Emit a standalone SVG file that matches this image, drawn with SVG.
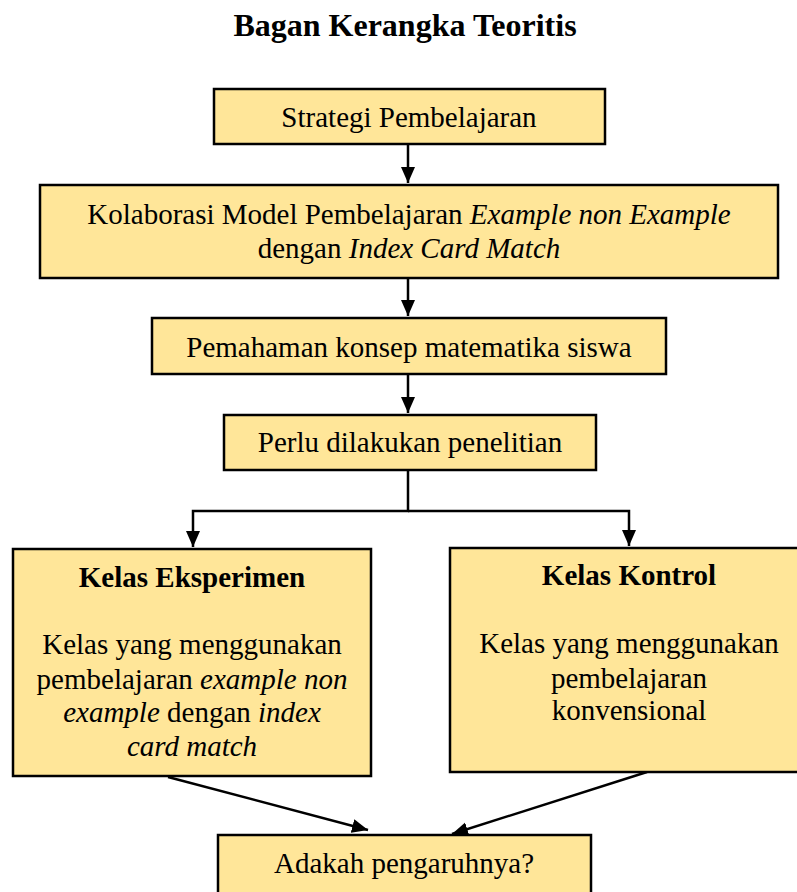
<svg xmlns="http://www.w3.org/2000/svg" width="797" height="892" viewBox="0 0 797 892">
<style>
.box{fill:#FFE699;stroke:#000;stroke-width:2.5}
.t{font-family:"Liberation Serif","Times New Roman",serif;font-size:29px;fill:#000;text-anchor:middle}
.b{font-weight:bold}
.i{font-style:italic}
.c{stroke:#000;stroke-width:2.5;fill:none}
</style>
<defs>
<marker id="ah" markerUnits="userSpaceOnUse" markerWidth="16" markerHeight="16" viewBox="0 0 16 16" refX="16" refY="8" orient="auto">
<path d="M0,1 L16,8 L0,15 Z" fill="#000"/>
</marker>
</defs>
<rect width="797" height="892" fill="#fff"/>
<text class="t b" x="405" y="36" style="font-size:32px">Bagan Kerangka Teoritis</text>
<g id="connectors">
<path class="c" d="M408,144 V183" marker-end="url(#ah)"/>
<path class="c" d="M408,278 V316" marker-end="url(#ah)"/>
<path class="c" d="M408,374 V413" marker-end="url(#ah)"/>
<path class="c" d="M408,470 V511 H193 V547" marker-end="url(#ah)"/>
<path class="c" d="M408,511 H629 V546" marker-end="url(#ah)"/>
<path class="c" d="M168,777 L368,830" marker-end="url(#ah)"/>
<path class="c" d="M647,772 L452,834" marker-end="url(#ah)"/>
</g>
<g id="n1"><rect class="box" x="214" y="89" width="391" height="55"/>
<text class="t" x="409" y="127">Strategi Pembelajaran</text></g>
<g id="n2"><rect class="box" x="40" y="185" width="738" height="93"/>
<text class="t" x="409" y="224">Kolaborasi Model Pembelajaran <tspan class="i">Example non Example</tspan></text>
<text class="t" x="409" y="258">dengan <tspan class="i">Index Card Match</tspan></text></g>
<g id="n3"><rect class="box" x="152" y="318" width="514" height="56"/>
<text class="t" x="409" y="357">Pemahaman konsep matematika siswa</text></g>
<g id="n4"><rect class="box" x="224" y="415" width="372" height="55"/>
<text class="t" x="410" y="452">Perlu dilakukan penelitian</text></g>
<g id="n5"><rect class="box" x="13" y="549" width="358" height="227"/>
<text class="t b" x="192" y="587">Kelas Eksperimen</text>
<text class="t" x="192" y="654">Kelas yang menggunakan</text>
<text class="t" x="192" y="689">pembelajaran <tspan class="i">example non</tspan></text>
<text class="t" x="192" y="722"><tspan class="i">example</tspan> dengan <tspan class="i">index</tspan></text>
<text class="t i" x="192" y="756">card match</text></g>
<g id="n6"><rect class="box" x="450" y="548" width="350" height="224"/>
<text class="t b" x="629" y="585">Kelas Kontrol</text>
<text class="t" x="629" y="653">Kelas yang menggunakan</text>
<text class="t" x="629" y="688">pembelajaran</text>
<text class="t" x="629" y="720">konvensional</text></g>
<g id="n7"><rect class="box" x="218" y="835" width="373" height="70"/>
<text class="t" x="404" y="873">Adakah pengaruhnya?</text></g>
</svg>
